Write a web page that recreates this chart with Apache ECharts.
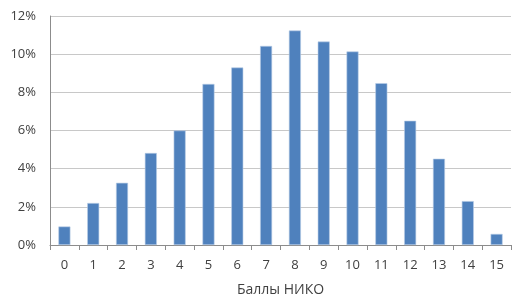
<!DOCTYPE html>
<html><head><meta charset="utf-8">
<script src="https://cdn.jsdelivr.net/npm/echarts@6/dist/echarts.min.js"></script>
<style>html,body{margin:0;padding:0;background:#fff}#c{width:512px;height:296px}</style>
</head><body><div id="c"></div>
<script>
const categories = ['0','1','2','3','4','5','6','7','8','9','10','11','12','13','14','15'];
const values = [0.97, 2.2, 3.26, 4.82, 6.0, 8.44, 9.3, 10.43, 11.24, 10.66, 10.14, 8.48, 6.51, 4.52, 2.3, 0.58];
const axisTitle = 'Баллы НИКО';
const yMax = 12, yStep = 2;

const chart = echarts.init(document.getElementById('c'), null, {renderer: 'canvas'});
const font = 'Open Sans';
chart.setOption({
  animation: false,
  grid: {left: 50, right: 1, top: 16, bottom: 51, containLabel: false, outerBoundsMode: 'none'},
  xAxis: {
    type: 'category', data: categories,
    name: axisTitle, nameLocation: 'middle', nameGap: 38,
    nameTextStyle: {fontFamily: font, fontSize: 14, color: '#404040'},
    axisLine: {lineStyle: {color: '#8c8c8c'}},
    axisTick: {show: true, length: 5, lineStyle: {color: '#8c8c8c'}},
    axisLabel: {fontFamily: font, fontSize: 13, color: '#404040', margin: 14}
  },
  yAxis: {
    type: 'value', min: 0, max: yMax, interval: yStep,
    axisLine: {show: true, lineStyle: {color: '#8c8c8c'}},
    axisTick: {show: false},
    splitLine: {lineStyle: {color: '#c8c8c8'}},
    axisLabel: {fontFamily: font, fontSize: 13, color: '#404040', margin: 14, formatter: v => v + '%'}
  },
  series: [{
    type: 'bar', data: values, barWidth: 12,
    itemStyle: {color: '#4f81bd', borderColor: '#b9cde5', borderWidth: 0.6}
  }]
});
</script></body></html>
